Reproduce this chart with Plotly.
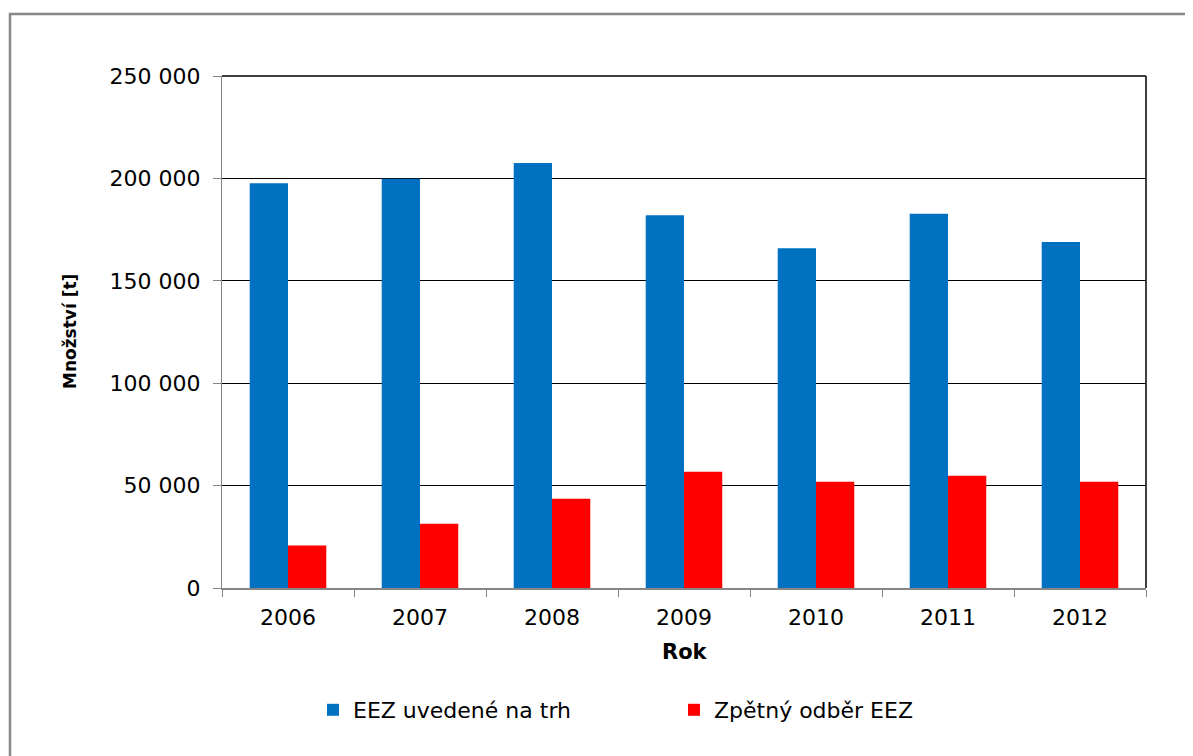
import plotly.graph_objects as go

years = ["2006", "2007", "2008", "2009", "2010", "2011", "2012"]
eez_market = [197600, 199800, 207500, 182000, 165900, 182700, 168900]
eez_takeback = [20700, 31400, 43600, 56800, 51900, 54800, 51900]
series_names = ["EEZ uvedené na trh", "Zpětný odběr EEZ"]
y_ticks = [0, 50000, 100000, 150000, 200000, 250000]

OFF = 8  # page body margin
W, H = 1193 - OFF, 756 - OFF
# target plot area in screen pixels: x 222..1146, y 76..588
L, T = 222 - OFF, 76 - OFF
R = W - (1146 - OFF)
B = H - (588 - OFF)
pw, ph = W - L - R, H - T - B

def px(s):
    return (s - OFF - L) / pw

def py(s):
    return (T + ph - (s - OFF)) / ph

FONT = "DejaVu Sans"

fig = go.Figure()
fig.add_trace(go.Bar(x=years, y=eez_market, name=series_names[0],
                     marker=dict(color="#0070C0", line=dict(width=0))))
fig.add_trace(go.Bar(x=years, y=eez_takeback, name=series_names[1],
                     marker=dict(color="#FF0000", line=dict(width=0))))

fig.update_layout(
    width=W, height=H,
    margin=dict(l=L, r=R, t=T, b=B, autoexpand=False),
    paper_bgcolor="white", plot_bgcolor="white",
    barmode="group", bargap=0.42, bargroupgap=0,
    separators=", ",
    font=dict(family=FONT, size=22, color="black"),
    showlegend=True,
    legend=dict(orientation="h", x=px(313), xanchor="left", y=py(710), yanchor="middle",
                font=dict(family=FONT, size=22, color="black"),
                entrywidth=316, entrywidthmode="pixels", itemsizing="constant",
                bgcolor="rgba(0,0,0,0)"),
    xaxis=dict(type="category", showgrid=False, showline=True, linecolor="#868686", linewidth=2,
               ticks="outside", tickson="boundaries", ticklen=7, tickcolor="#868686", tickwidth=1,
               tickfont=dict(family=FONT, size=22, color="black"), ticklabelstandoff=9),
    yaxis=dict(range=[0, 250000], tickvals=y_ticks, tickformat=",d", showgrid=True,
               gridcolor="black", gridwidth=1, zeroline=False, showline=True,
               linecolor="#868686", linewidth=1, ticks="outside", ticklen=8,
               tickcolor="#868686", tickfont=dict(family=FONT, size=22, color="black"),
               ticklabelstandoff=8),
    shapes=[
        dict(type="line", xref="paper", yref="paper", x0=1, x1=1, y0=0, y1=1,
             line=dict(color="black", width=1.5)),
        dict(type="line", xref="paper", yref="paper", x0=0, x1=1, y0=1, y1=1,
             line=dict(color="black", width=1.5)),
        dict(type="rect", xref="paper", yref="paper", x0=px(10), x1=px(1260), y0=py(800), y1=py(14),
             line=dict(color="#888888", width=2.5), fillcolor="rgba(0,0,0,0)", layer="below"),
    ],
    annotations=[
        dict(text="<b>Množství [t]</b>", xref="paper", yref="paper", x=px(70), y=py(332),
             textangle=-90, showarrow=False, xanchor="center", yanchor="middle",
             font=dict(family=FONT, size=17, color="black")),
        dict(text="<b>Rok</b>", xref="paper", yref="paper", x=px(685), y=py(652),
             showarrow=False, xanchor="center", yanchor="middle",
             font=dict(family=FONT, size=21, color="black")),
    ],
)

fig.write_html("out.html")
